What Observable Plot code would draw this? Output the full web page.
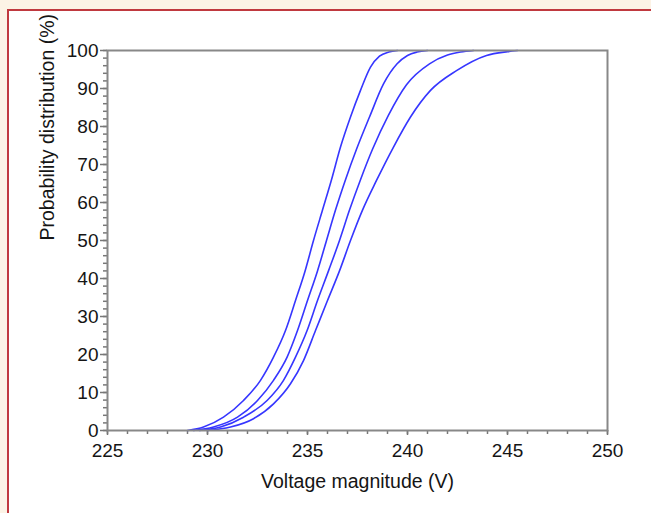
<!DOCTYPE html>
<html>
<head>
<meta charset="utf-8">
<script src="https://cdn.jsdelivr.net/npm/d3@7"></script>
<script src="https://cdn.jsdelivr.net/npm/@observablehq/plot@0.6"></script>
<style>
  html, body { margin: 0; padding: 0; background: #fcf3e6; width: 651px; height: 513px; overflow: hidden; }
  #box { position: absolute; left: 7px; top: 9px; width: 680px; height: 540px; background: #ffffff; border: 2.5px solid #c0393f; box-sizing: border-box; }
  #chart { position: absolute; left: 0; top: 0; }
</style>
</head>
<body>
<div id="box"></div>
<div id="chart"></div>
<script>
// Four cumulative probability curves: voltage (V) and probability (%)
const curveA_v = [229.0, 229.8, 230.8, 231.8, 232.65, 233.3, 233.9, 234.4, 234.88, 235.3, 235.75, 236.2, 236.65, 237.15, 237.65, 238.15, 238.6, 239.07, 239.5];
const curveA_p = [0, 0.9, 3.5, 7.9, 13.2, 19.3, 26.3, 34.2, 42, 50, 58, 66, 74.6, 82.5, 89.5, 95.6, 98.5, 99.6, 100];

const curveB_v = [229.3, 230.3, 231.5, 232.5, 233.3, 233.98, 234.5, 235.0, 235.5, 235.95, 236.4, 236.9, 237.45, 238.1, 238.8, 239.48, 240.0, 240.48, 241.0];
const curveB_p = [0, 0.9, 3.5, 7.9, 13.2, 19.3, 26.3, 34.2, 42, 50, 58, 66, 74, 82.5, 91.2, 96.5, 98.7, 99.6, 100];

const curveC_v = [229.6, 230.65, 231.8, 232.98, 233.8, 234.4, 234.98, 235.5, 236.05, 236.6, 237.1, 237.65, 238.25, 239.05, 239.95, 241.1, 242.0, 242.65, 243.3];
const curveC_p = [0, 0.9, 3.5, 7.9, 13.2, 19.3, 26.3, 34.2, 42, 50, 58, 66, 74, 83, 91, 96.5, 98.8, 99.6, 100];

const curveD_v = [230.0, 231.15, 232.3, 233.3, 234.15, 234.8, 235.4, 236.0, 236.6, 237.15, 237.75, 238.45, 239.3, 240.15, 241.15, 242.45, 243.95, 245.0, 245.5];
const curveD_p = [0, 0.9, 3.1, 7.0, 12.3, 18.4, 26.3, 34.2, 42, 50, 58, 65.8, 74.6, 82.5, 89.5, 94.7, 98.7, 99.7, 100];

const xMajorTicks = [225, 230, 235, 240, 245, 250];
const xMinorTicks = d3.range(225, 251, 1);
const yMajorTicks = [0, 10, 20, 30, 40, 50, 60, 70, 80, 90, 100];
const yMinorTicks = d3.range(0, 101, 2);
const xLabel = "Voltage magnitude (V)";
const yLabel = "Probability distribution (%)";

const curves = [
  ["A", curveA_v, curveA_p],
  ["B", curveB_v, curveB_p],
  ["C", curveC_v, curveC_p],
  ["D", curveD_v, curveD_p]
];
const data = curves.flatMap(([name, vs, ps]) => vs.map((v, i) => ({curve: name, v, p: ps[i]})));

const font = "Liberation Sans, Arial, sans-serif";
const textColor = "#151515";

const plot = Plot.plot({
  width: 651,
  height: 513,
  marginLeft: 107,
  marginRight: 44,
  marginTop: 50,
  marginBottom: 83,
  style: {background: "transparent", fontFamily: font, color: textColor},
  x: {domain: [225, 250]},
  y: {domain: [0, 100]},
  marks: [
    Plot.axisX({ticks: xMinorTicks, tickSize: 4, text: null, label: null, stroke: "#777", strokeWidth: 1.5}),
    Plot.axisX({ticks: xMajorTicks, tickSize: 5, tickPadding: 8, tickFormat: d => String(d), label: null, fontSize: 19, stroke: "#777", strokeWidth: 1.5, fill: textColor}),
    Plot.axisY({ticks: yMinorTicks, tickSize: 4, text: null, label: null, stroke: "#777", strokeWidth: 1.5}),
    Plot.axisY({ticks: yMajorTicks, tickSize: 7, tickPadding: 2, tickFormat: d => String(d), label: null, fontSize: 19, stroke: "#777", strokeWidth: 1.5, fill: textColor}),
    Plot.line(data, {x: "v", y: "p", z: "curve", stroke: "#3636ff", strokeWidth: 1.6, curve: "monotone-x"}),
    Plot.frame({stroke: "#888", strokeWidth: 2}),
    Plot.text([xLabel], {frameAnchor: "bottom", dy: 57, text: d => d, fontSize: 19.5, fill: textColor}),
    Plot.text([yLabel], {frameAnchor: "left", dx: -60, rotate: -90, text: d => d, fontSize: 19.5, fill: textColor})
  ]
});
document.getElementById("chart").append(plot);
</script>
</body>
</html>
